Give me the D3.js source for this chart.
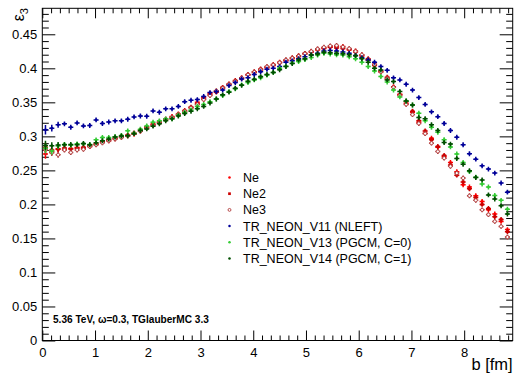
<!DOCTYPE html>
<html><head><meta charset="utf-8">
<script src="https://cdn.jsdelivr.net/npm/d3@7"></script>
<style>
body{margin:0;background:#fff}
svg{display:block}
text{font-family:"Liberation Sans",Arial,Helvetica,sans-serif}
</style>
</head><body>
<svg id="chart" width="523" height="379"></svg>
<script>
// ---- data ----
const bCenters = [0.06,0.18,0.30,0.42,0.54,0.66,0.78,0.90,1.02,1.14,1.26,1.38,1.50,1.62,1.74,1.86,1.98,2.10,2.22,2.34,2.46,2.58,2.70,2.82,2.94,3.06,3.18,3.30,3.42,3.54,3.66,3.78,3.90,4.02,4.14,4.26,4.38,4.50,4.62,4.74,4.86,4.98,5.10,5.22,5.34,5.46,5.58,5.70,5.82,5.94,6.06,6.18,6.30,6.42,6.54,6.66,6.78,6.90,7.02,7.14,7.26,7.38,7.50,7.62,7.74,7.86,7.98,8.10,8.22,8.34,8.46,8.58,8.70,8.82];
const binHalfWidth = 0.048;

const ne = [0.2740,0.2775,0.2817,0.2810,0.2822,0.2837,0.2827,0.2866,0.2890,0.2925,
0.2949,0.2975,0.2998,0.3013,0.3032,0.3096,0.3130,0.3169,0.3208,0.3242,
0.3291,0.3316,0.3355,0.3420,0.3500,0.3570,0.3634,0.3660,0.3707,0.3760,
0.3805,0.3863,0.3900,0.3940,0.3976,0.4010,0.4040,0.4089,0.4110,0.4140,
0.4170,0.4210,0.4245,0.4270,0.4303,0.4318,0.4318,0.4320,0.4270,0.4255,
0.4196,0.4123,0.4060,0.3950,0.3844,0.3730,0.3620,0.3480,0.3355,0.3209,
0.3047,0.2974,0.2840,0.2700,0.2616,0.2480,0.2289,0.2255,0.2127,0.2044,
0.1920,0.1860,0.1750,0.1630];
const ne2 = [0.2840,0.2800,0.2810,0.2830,0.2815,0.2825,0.2840,0.2850,0.2880,0.2915,
0.2935,0.2965,0.2990,0.3020,0.3050,0.3080,0.3140,0.3180,0.3200,0.3250,
0.3280,0.3330,0.3380,0.3430,0.3480,0.3550,0.3610,0.3650,0.3720,0.3770,
0.3820,0.3850,0.3910,0.3950,0.3990,0.4020,0.4055,0.4080,0.4120,0.4155,
0.4185,0.4220,0.4240,0.4280,0.4290,0.4310,0.4300,0.4290,0.4280,0.4240,
0.4180,0.4140,0.4040,0.3960,0.3870,0.3720,0.3610,0.3510,0.3370,0.3230,
0.3080,0.2950,0.2850,0.2720,0.2580,0.2430,0.2330,0.2230,0.2100,0.2000,
0.1940,0.1820,0.1780,0.1600];
const ne3 = [0.2800,0.2760,0.2729,0.2800,0.2763,0.2800,0.2810,0.2850,0.2875,0.2905,
0.2935,0.2960,0.2985,0.3005,0.3040,0.3075,0.3120,0.3160,0.3210,0.3255,
0.3280,0.3320,0.3370,0.3420,0.3470,0.3540,0.3600,0.3670,0.3710,0.3765,
0.3810,0.3860,0.3905,0.3945,0.3980,0.4025,0.4050,0.4085,0.4125,0.4150,
0.4180,0.4215,0.4250,0.4285,0.4310,0.4330,0.4335,0.4315,0.4290,0.4250,
0.4200,0.4125,0.4055,0.3945,0.3850,0.3720,0.3600,0.3470,0.3320,0.3190,
0.3040,0.2900,0.2778,0.2680,0.2560,0.2460,0.2387,0.2127,0.2060,0.1920,
0.1850,0.1750,0.1677,0.1520];
const v11 = [0.3096,0.3120,0.3170,0.3184,0.3135,0.3198,0.3154,0.3160,0.3242,0.3190,
0.3210,0.3228,0.3228,0.3252,0.3286,0.3300,0.3296,0.3374,0.3355,0.3404,
0.3404,0.3440,0.3510,0.3530,0.3540,0.3585,0.3643,0.3658,0.3680,0.3746,
0.3790,0.3844,0.3863,0.3910,0.3950,0.3986,0.4000,0.4025,0.4089,0.4110,
0.4140,0.4170,0.4196,0.4220,0.4255,0.4260,0.4255,0.4240,0.4220,0.4190,
0.4157,0.4123,0.4089,0.4025,0.3970,0.3860,0.3830,0.3766,0.3680,0.3570,
0.3470,0.3360,0.3290,0.3190,0.3086,0.2988,0.2876,0.2744,0.2665,0.2567,
0.2519,0.2460,0.2314,0.2180];
const v13 = [0.2827,0.2785,0.2860,0.2882,0.2870,0.2890,0.2890,0.2880,0.2949,0.2983,
0.2983,0.2995,0.3013,0.3081,0.3047,0.3106,0.3154,0.3208,0.3228,0.3257,
0.3257,0.3310,0.3350,0.3389,0.3438,0.3470,0.3510,0.3550,0.3600,0.3658,
0.3700,0.3756,0.3790,0.3830,0.3860,0.3900,0.3940,0.4000,0.4030,0.4074,
0.4100,0.4130,0.4160,0.4196,0.4220,0.4210,0.4200,0.4196,0.4170,0.4140,
0.4090,0.4025,0.3960,0.3880,0.3800,0.3680,0.3580,0.3520,0.3460,0.3340,
0.3230,0.3135,0.3060,0.2950,0.2845,0.2740,0.2616,0.2484,0.2400,0.2300,
0.2255,0.2130,0.2060,0.1930];
const v14 = [0.2866,0.2862,0.2872,0.2876,0.2880,0.2878,0.2895,0.2876,0.2905,0.2935,
0.2960,0.2990,0.3005,0.3010,0.3040,0.3085,0.3110,0.3150,0.3185,0.3230,
0.3257,0.3300,0.3335,0.3370,0.3404,0.3440,0.3490,0.3550,0.3610,0.3650,
0.3707,0.3750,0.3810,0.3840,0.3878,0.3910,0.3940,0.3980,0.4025,0.4070,
0.4123,0.4140,0.4196,0.4210,0.4235,0.4230,0.4220,0.4215,0.4200,0.4186,
0.4140,0.4089,0.4001,0.3976,0.3830,0.3805,0.3660,0.3520,0.3460,0.3277,
0.3260,0.3170,0.3086,0.2910,0.2886,0.2675,0.2590,0.2494,0.2396,0.2360,
0.2140,0.2080,0.1980,0.1860];

const yErrLowB = [0.0070, 0.0050, 0.0045];
const yErrDefault = 0.0036;

const seriesNames = ["Ne","Ne2","Ne3","TR_NEON_V11 (NLEFT)","TR_NEON_V13 (PGCM, C=0)","TR_NEON_V14 (PGCM, C=1)"];
const seriesValues = [ne, ne2, ne3, v11, v13, v14];

const xTickValues = [0,1,2,3,4,5,6,7,8];
const xTickLabels = ["0","1","2","3","4","5","6","7","8"];
const yTickValues = [0,0.05,0.1,0.15,0.2,0.25,0.3,0.35,0.4,0.45];
const yTickLabels = ["0","0.05","0.1","0.15","0.2","0.25","0.3","0.35","0.4","0.45"];

const xTitle = "b [fm]";
const annotation = "5.36 TeV, \u03c9=0.3, TGlauberMC 3.3";

// ---- styles ----
const styles = [
  {color:"#ff0000", marker:"dot"},
  {color:"#cc0000", marker:"square"},
  {color:"#b03a3a", marker:"open"},
  {color:"#000099", marker:"dot"},
  {color:"#33cc33", marker:"dot"},
  {color:"#004f00", marker:"dot"}
];

const svg = d3.select("#chart");
const L = 42.3, R = 512.7, T = 8.3, B = 340.5;
const x = d3.scaleLinear().domain([0, 8.92]).range([L, R]);
const y = d3.scaleLinear().domain([0, 0.4882]).range([B, T]);

svg.append("rect").attr("width",523).attr("height",379).attr("fill","#fff");

svg.append("clipPath").attr("id","clip").append("rect")
  .attr("x",L).attr("y",T).attr("width",R-L).attr("height",B-T);

const xMinor = d3.range(0, 8.92, 1/6).filter(v => Math.abs(v - Math.round(v)) > 1e-6);
const yMinor = d3.range(0, 0.488, 0.01).filter(v => Math.abs(v*20 - Math.round(v*20)) > 1e-6);

const fontSize = 13;
function styleAxis(g){
  g.select(".domain").remove();
  g.selectAll("line").attr("stroke","#000").attr("stroke-width",1);
  g.selectAll("text").attr("font-size",fontSize).attr("fill","#000")
   .attr("font-family",'"Liberation Sans",Arial,sans-serif');
}

svg.append("g").attr("transform",`translate(0,${B})`)
  .call(d3.axisBottom(x).tickValues(xTickValues).tickSize(-10).tickPadding(7)
        .tickFormat((d,i)=>xTickLabels[i])).call(styleAxis);
svg.append("g").attr("transform",`translate(0,${B})`)
  .call(d3.axisBottom(x).tickValues(xMinor).tickSize(-5).tickFormat("")).call(styleAxis);
svg.append("g").attr("transform",`translate(0,${T})`)
  .call(d3.axisTop(x).tickValues(xTickValues).tickSize(-10).tickFormat("")).call(styleAxis);
svg.append("g").attr("transform",`translate(0,${T})`)
  .call(d3.axisTop(x).tickValues(xMinor).tickSize(-5).tickFormat("")).call(styleAxis);
svg.append("g").attr("transform",`translate(${L},0)`)
  .call(d3.axisLeft(y).tickValues(yTickValues).tickSize(-13).tickPadding(5)
        .tickFormat((d,i)=>yTickLabels[i])).call(styleAxis);
svg.append("g").attr("transform",`translate(${L},0)`)
  .call(d3.axisLeft(y).tickValues(yMinor).tickSize(-6.5).tickFormat("")).call(styleAxis);
svg.append("g").attr("transform",`translate(${R},0)`)
  .call(d3.axisRight(y).tickValues(yTickValues).tickSize(-13).tickFormat("")).call(styleAxis);
svg.append("g").attr("transform",`translate(${R},0)`)
  .call(d3.axisRight(y).tickValues(yMinor).tickSize(-6.5).tickFormat("")).call(styleAxis);

svg.append("rect").attr("x",L).attr("y",T).attr("width",R-L).attr("height",B-T)
  .attr("fill","none").attr("stroke","#000").attr("stroke-width",1);

function drawMarker(g, cx, cy, st, scale){
  if (st.marker === "dot") {
    g.append("circle").attr("cx",cx).attr("cy",cy).attr("r",1.4*scale).attr("fill",st.color);
  } else if (st.marker === "square") {
    g.append("rect").attr("x",cx-1.5*scale).attr("y",cy-1.5*scale)
      .attr("width",3*scale).attr("height",3*scale).attr("fill",st.color);
  } else {
    g.append("circle").attr("cx",cx).attr("cy",cy).attr("r",1.6*scale)
      .attr("fill","#fff").attr("stroke",st.color).attr("stroke-width",0.9);
  }
}

const plot = svg.append("g").attr("clip-path","url(#clip)");
seriesValues.forEach((vals, si) => {
  const st = styles[si];
  const g = plot.append("g");
  vals.forEach((v, i) => {
    const b = bCenters[i];
    const e = i < yErrLowB.length ? yErrLowB[i] : yErrDefault;
    g.append("line").attr("x1",x(b-binHalfWidth)).attr("x2",x(b+binHalfWidth))
      .attr("y1",y(v)).attr("y2",y(v)).attr("stroke",st.color).attr("stroke-width",1.5);
    g.append("line").attr("x1",x(b)).attr("x2",x(b))
      .attr("y1",y(v-e)).attr("y2",y(v+e)).attr("stroke",st.color).attr("stroke-width",1.5);
    drawMarker(g, x(b), y(v), st, 1);
  });
});

const legY0 = 177.5, legDy = 16.2, legMx = 229.5, legTx = 243;
seriesNames.forEach((name, i) => {
  const cy = legY0 + i*legDy;
  drawMarker(svg, legMx, cy, styles[i], 0.9);
  svg.append("text").attr("x",legTx).attr("y",cy).attr("dy","0.36em")
    .attr("font-size",12.5).attr("fill","#000").text(name);
});

svg.append("text").attr("x",R).attr("y",370).attr("text-anchor","end")
  .attr("font-size",16.5).attr("fill","#000").text(xTitle);

const yt = svg.append("text").attr("transform","translate(24,8) rotate(-90)")
  .attr("text-anchor","end").attr("font-size",16).attr("fill","#000");
yt.append("tspan").text("\u03b5");
yt.append("tspan").attr("font-size",11).attr("dy",4).text("3");

svg.append("text").attr("x",53).attr("y",323).attr("font-size",10.1)
  .attr("font-weight","bold").attr("fill","#000").text(annotation);
</script>
</body></html>
